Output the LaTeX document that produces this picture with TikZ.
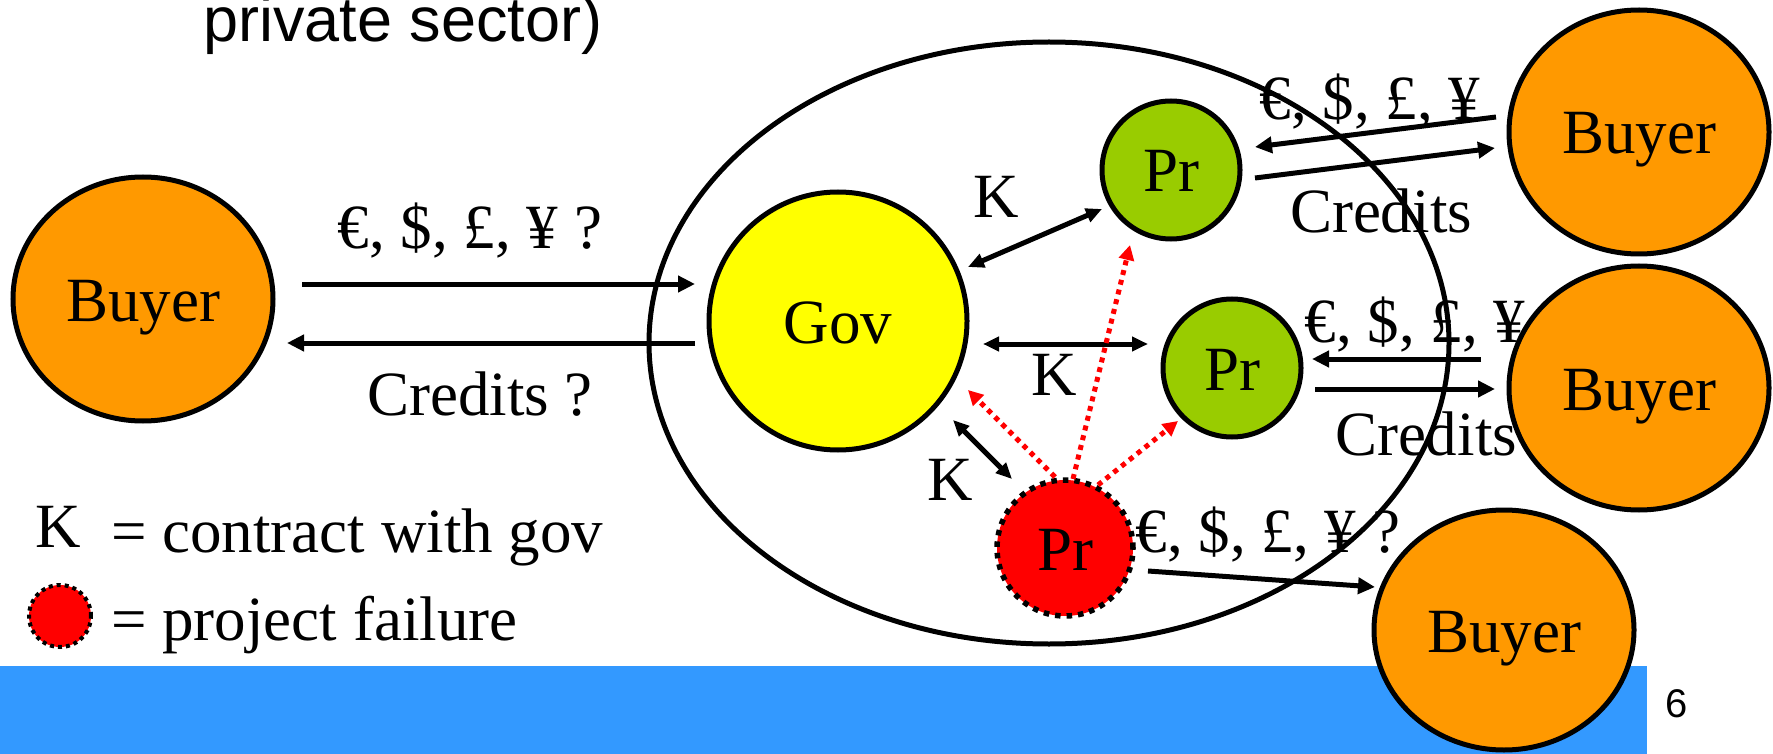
\documentclass[tikz,border=0pt]{standalone}
\usepackage{fontspec}
\setmainfont{Liberation Serif}
\newfontfamily\sansf{Liberation Sans}
\usetikzlibrary{shapes.geometric,arrows.meta}
\definecolor{buyerorange}{RGB}{255,153,0}
\definecolor{govyellow}{RGB}{255,255,0}
\definecolor{prgreen}{RGB}{153,204,0}
\definecolor{barblue}{RGB}{51,153,255}
\begin{document}
\begin{tikzpicture}[x=1pt,y=-1pt,
  font=\fontsize{63}{70}\selectfont,
  buyer/.style={ellipse, draw, line width=5pt, fill=buyerorange, minimum width=260pt, minimum height=244pt, inner sep=0pt, text height=44pt, text depth=0pt},
  prnode/.style={circle, draw, line width=5pt, fill=prgreen, minimum size=138pt, inner sep=0pt, text height=44pt, text depth=0pt},
  failnode/.style={circle, fill=red, draw=black, line width=5.5pt, dash pattern=on 5.5pt off 6pt, inner sep=0pt, text height=44pt, text depth=0pt},
  govnode/.style={circle, draw, line width=5pt, fill=govyellow, minimum size=258pt, inner sep=0pt, text height=44pt, text depth=0pt},
  lbl/.style={anchor=base, inner sep=0pt},
  lblw/.style={anchor=base west, inner sep=0pt},
  arr/.style={line width=5pt, -{Triangle[length=17pt,width=16pt]}},
  karr/.style={line width=5pt, {Triangle[length=16pt,width=14pt]}-{Triangle[length=16pt,width=14pt]}},
  redarr/.style={draw=red, line width=5pt, dash pattern=on 5pt off 5pt, -{Triangle[length=15pt,width=15pt,fill=red]}}
]
\useasboundingbox (0,0) rectangle (1773,754);

% bottom bar and page number
\fill[barblue] (0,666) rectangle (1647,754);
\node[lbl, font=\sansf\fontsize{40}{44}\selectfont] (pagenum) at (1677,717) {6};

% title fragment
\node[lblw, font=\sansf\fontsize{63}{70}\selectfont] (title) at (203,42) {private sector)};

% labels
\node[lbl] (l1) at (470,249) {€, \$, £, ¥ ?};
\node[lbl] (l2) at (480,415) {Credits ?};
\node[lbl] (ktop) at (996,218) {K};
\node[lbl] (kmid) at (1054,395) {K};
\node[lbl] (klow) at (950,500) {K};
\node[lbl] (l3) at (1370,120) {€, \$, £, ¥};
\node[lbl] (l4) at (1381,233) {Credits};
\node[lbl] (l5) at (1415,342) {€, \$, £, ¥};
\node[lbl] (l6) at (1426,455) {Credits};
\node[lbl] (l7) at (1268,552) {€, \$, £, ¥ ?};

% legend
\node[lbl] (legk) at (58,547) {K};
\node[lblw] (legk2) at (111,552) {= contract with gov};
\node[failnode, minimum size=62pt, line width=4pt, dash pattern=on 4pt off 4pt] (legf) at (60,616) {};
\node[lblw] (legf2) at (111,640) {= project failure};

% big ellipse
\node[ellipse, draw, line width=5pt, minimum width=800pt, minimum height=602pt, inner sep=0pt] (region) at (1049,343) {};

% nodes
\node[buyer] (b0) at (143,299) {Buyer};
\node[govnode] (gov) at (838,321) {Gov};
\node[prnode] (p1) at (1171,170) {Pr};
\node[prnode] (p2) at (1232,368) {Pr};
\node[failnode, minimum size=136pt] (pf) at (1065,548) {Pr};
\node[buyer] (b1) at (1639,132) {Buyer};
\node[buyer] (b2) at (1639,388) {Buyer};
\node[buyer, minimum height=240pt] (b3) at (1504,630) {Buyer};

% connector end points
\coordinate (a1s) at (302,284); \coordinate (a1e) at (695,284);
\coordinate (a2s) at (695,343); \coordinate (a2e) at (287,343);
\coordinate (k1s) at (968,267); \coordinate (k1e) at (1102,209);
\coordinate (k2s) at (983,344); \coordinate (k2e) at (1148,344);
\coordinate (k3s) at (953,420); \coordinate (k3e) at (1012,479);
\coordinate (r1s) at (1055,477); \coordinate (r1e) at (968,390);
\coordinate (r2s) at (1073,479); \coordinate (r2e) at (1130,245);
\coordinate (r3s) at (1098,485); \coordinate (r3e) at (1178,421);
\coordinate (t1s) at (1496,117); \coordinate (t1e) at (1255,147);
\coordinate (t2s) at (1255,178); \coordinate (t2e) at (1495,148);
\coordinate (m1s) at (1481,359); \coordinate (m1e) at (1312,359);
\coordinate (m2s) at (1315,389); \coordinate (m2e) at (1495,389);
\coordinate (f1s) at (1148,571); \coordinate (f1e) at (1375,587);

% connectors
\draw[arr] (a1s) -- (a1e);
\draw[arr] (a2s) -- (a2e);
\draw[karr] (k1s) -- (k1e);
\draw[karr] (k2s) -- (k2e);
\draw[karr] (k3s) -- (k3e);
\draw[redarr] (r1s) -- (r1e);
\draw[redarr] (r2s) -- (r2e);
\draw[redarr] (r3s) -- (r3e);
\draw[arr] (t1s) -- (t1e);
\draw[arr] (t2s) -- (t2e);
\draw[arr] (m1s) -- (m1e);
\draw[arr] (m2s) -- (m2e);
\draw[arr] (f1s) -- (f1e);
\end{tikzpicture}
\end{document}
